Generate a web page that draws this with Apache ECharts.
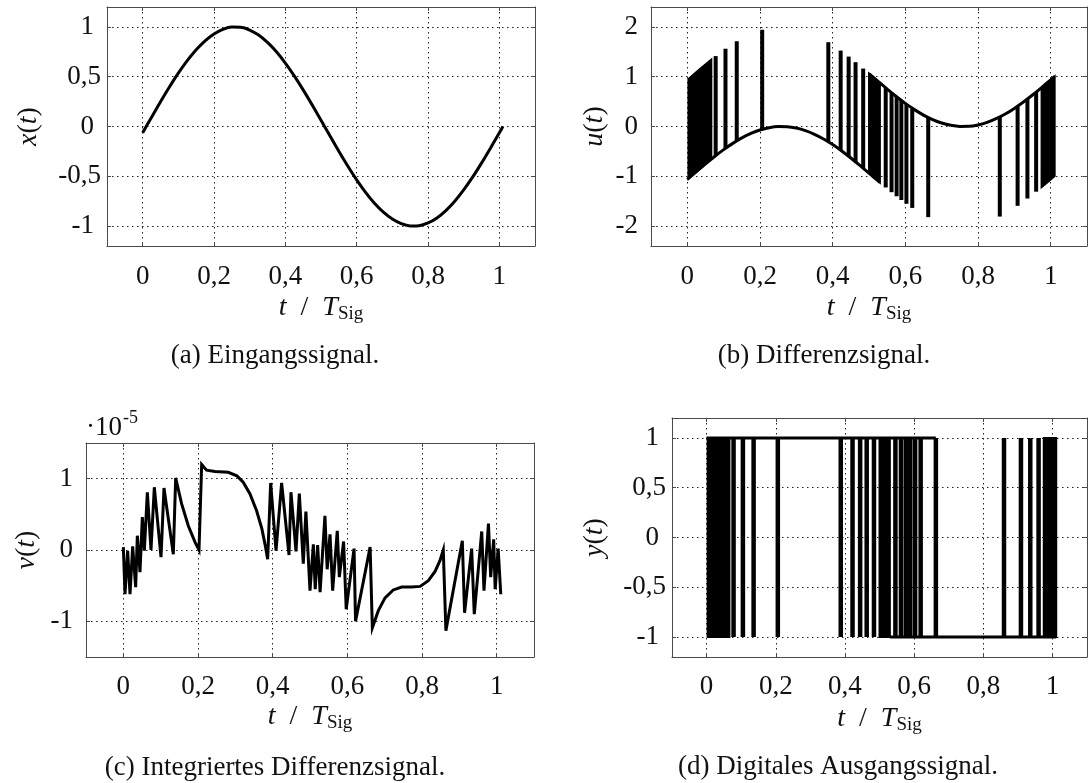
<!DOCTYPE html>
<html>
<head>
<meta charset="utf-8">
<script src="https://cdn.jsdelivr.net/npm/echarts@6.0.0/dist/echarts.min.js"></script>
<style>html,body{margin:0;padding:0;background:#fff}#c{width:1090px;height:783px}</style>
</head>
<body>
<div id="c"></div>
<script>
// ---------- data ----------
// (a) input signal x(t)
const tGrid = [0,0.025,0.05,0.075,0.1,0.125,0.15,0.175,0.2,0.225,0.25,0.275,0.3,0.325,0.35,0.375,0.4,0.425,0.45,0.475,0.5,0.525,0.55,0.575,0.6,0.625,0.65,0.675,0.7,0.725,0.75,0.775,0.8,0.825,0.85,0.875,0.9,0.925,0.95,0.975,1.0,1.01];
const xVals = [-0.063,0.094,0.249,0.397,0.536,0.661,0.771,0.861,0.930,0.976,0.998,0.996,0.969,0.918,0.844,0.750,0.637,0.509,0.368,0.218,0.063,-0.094,-0.249,-0.397,-0.536,-0.661,-0.771,-0.861,-0.930,-0.976,-0.998,-0.996,-0.969,-0.918,-0.844,-0.750,-0.637,-0.509,-0.368,-0.218,-0.063,0.000];

// (b) difference signal u(t): lower branch, upper branch, spikes, dense switching bands
const uLowT = [0,0.025,0.05,0.075,0.1,0.125,0.15,0.175,0.2,0.225,0.25,0.275,0.3,0.325,0.35,0.375,0.4,0.425,0.45,0.475,0.5,0.525,0.53];
const uLowV = [-1.063,-0.906,-0.751,-0.603,-0.464,-0.339,-0.229,-0.139,-0.070,-0.024,-0.002,-0.004,-0.031,-0.082,-0.156,-0.250,-0.363,-0.491,-0.632,-0.782,-0.937,-1.094,-1.125];
const uHighT = [0.5,0.525,0.55,0.575,0.6,0.625,0.65,0.675,0.7,0.725,0.75,0.775,0.8,0.825,0.85,0.875,0.9,0.925,0.95,0.975,1.0,1.011];
const uHighV = [1.063,0.906,0.751,0.603,0.464,0.339,0.229,0.139,0.070,0.024,0.002,0.004,0.031,0.082,0.156,0.250,0.363,0.491,0.632,0.782,0.937,1.006];
const pulseT  = [0.078,0.105,0.136,0.206,0.388,0.422,0.444,0.463,0.484,0.546,0.562,0.576,0.589,0.603,0.619,0.663,0.860,0.909,0.936,0.960];
const spikeLo = [-0.586,-0.438,-0.289,-0.057,-0.307,-0.475,-0.596,-0.708,-0.837,-1.224,-1.319,-1.401,-1.476,-1.552,-1.635,-1.820,-1.809,-1.593,-1.446,-1.309];
const spikeHi = [1.414,1.562,1.712,1.943,1.693,1.525,1.404,1.292,1.163,0.776,0.681,0.599,0.525,0.448,0.365,0.181,0.191,0.407,0.554,0.691];
const denseT0  = [0.003,0.500,0.975];
const denseTm  = [0.033,0.515,0.993];
const denseT1  = [0.066,0.530,1.011];
const denseBLo = [[-1.044,-0.856,-0.655],[-0.937,-1.031,-1.125],[-1.218,-1.107,-0.994]];
const denseBHi = [[0.956,1.144,1.345],[1.063,0.969,0.875],[0.782,0.894,1.006]];

// (c) integrated difference signal v(t), in units of 1e-5
const vT = [0,0.0045,0.0116,0.0179,0.025,0.033,0.0375,0.0446,0.0509,0.0563,0.0643,0.0741,0.083,0.1009,0.1089,0.1339,0.1402,0.156,0.174,0.192,0.2027,0.2098,0.223,0.2455,0.281,0.304,0.321,0.339,0.357,0.371,0.381,0.3866,0.3946,0.409,0.424,0.4438,0.449,0.4625,0.4714,0.482,0.489,0.5,0.509,0.514,0.5205,0.527,0.540,0.546,0.5536,0.5607,0.573,0.5786,0.590,0.597,0.618,0.622,0.661,0.667,0.683,0.701,0.723,0.7455,0.772,0.795,0.817,0.835,0.848,0.857,0.864,0.908,0.914,0.933,0.940,0.960,0.966,0.978,0.984,0.992,0.996,1.004,1.011];
const vVals = [0.04,-0.62,-0.01,-0.62,0.05,-0.52,0.20,-0.31,0.46,-0.01,0.81,0.0,0.88,-0.10,0.87,-0.06,1.01,0.65,0.34,0.11,0.0,1.20,1.12,1.10,1.09,1.04,0.95,0.79,0.55,0.30,0.04,-0.13,0.94,-0.01,0.94,-0.07,0.81,-0.02,0.79,-0.19,0.54,-0.57,0.08,-0.55,0.07,-0.59,0.48,-0.27,0.22,-0.57,0.27,-0.38,0.12,-0.83,0.02,-1.0,0.04,-1.09,-0.85,-0.67,-0.56,-0.52,-0.52,-0.51,-0.43,-0.30,-0.15,0.0,-1.13,0.13,-0.88,0.02,-0.90,0.26,-0.57,0.37,-0.38,0.15,-0.55,0.02,-0.62];

// (d) digital output y(t): levels, held rails, pulses (pulseT) and dense bands (denseT0/T1)
const yLevels = [-1, 1];
const railT0 = [0, 0.53];
const railT1 = [0.663, 1.011];
const railV  = [1, -1];

// tick labels
const xTickStep = 0.2;
const captions = ['(a) Eingangssignal.', '(b) Differenzsignal.', '(c) Integriertes Differenzsignal.', '(d) Digitales Ausgangssignal.'];

// ---------- styling helpers ----------
const FONT = '"Liberation Serif", "Times New Roman", serif';
const INK = '#111';
const BORDER = '#4a4a4a';
const GRID_LINE = {color: '#222', width: 1, type: [1.5, 3.5]};
const TICK_FS = 27;
const NAME_FS = 28;
const LW = 3;

function onStep(v, step) { const r = v / step; return Math.abs(r - Math.round(r)) < 1e-6; }
function commaNum(v) { return String(Math.round(v * 1000) / 1000).replace('.', ','); }

const nameRich = {
  it: {fontFamily: FONT, fontSize: NAME_FS, fontStyle: 'italic', color: INK, lineHeight: 32, verticalAlign: 'middle'},
  n:  {fontFamily: FONT, fontSize: NAME_FS, color: INK, lineHeight: 32, verticalAlign: 'middle'},
  sub:{fontFamily: FONT, fontSize: 19, color: INK, lineHeight: 19, verticalAlign: 'bottom'}
};

function xAxes(g, nameGap, margin) {
  return [{
    gridIndex: g, type: 'value', min: -0.1, max: 1.1, position: 'bottom',
    axisLine: {show: true, onZero: false, lineStyle: {color: BORDER, width: 1}},
    axisTick: {show: true, inside: true, length: 4, lineStyle: {color: BORDER, width: 1}},
    axisLabel: {show: true, margin: margin, fontFamily: FONT, fontSize: TICK_FS, color: INK,
      formatter: v => onStep(v, xTickStep) ? commaNum(v) : ''},
    splitLine: {show: true, showMinLine: false, showMaxLine: false, lineStyle: GRID_LINE},
    name: '{it|t}{n|\u2002/\u2002}{it|T}{sub|Sig}', nameLocation: 'middle', nameGap: nameGap, nameMoveOverlap: false,
    nameTextStyle: {fontFamily: FONT, fontSize: NAME_FS, color: INK, rich: nameRich}
  }, {
    gridIndex: g, type: 'value', min: -0.1, max: 1.1, position: 'top',
    axisLine: {show: true, onZero: false, lineStyle: {color: BORDER, width: 1}},
    axisTick: {show: true, inside: true, length: 4, lineStyle: {color: BORDER, width: 1}},
    axisLabel: {show: false}, splitLine: {show: false}
  }];
}

function yAxes(g, lim, splitNumber, step, name, nameGap) {
  return [{
    gridIndex: g, type: 'value', min: -lim, max: lim, splitNumber: splitNumber, position: 'left',
    axisLine: {show: true, onZero: false, lineStyle: {color: BORDER, width: 1}},
    axisTick: {show: true, inside: true, length: 4, lineStyle: {color: BORDER, width: 1}},
    axisLabel: {show: true, margin: 6, fontFamily: FONT, fontSize: TICK_FS, color: INK,
      formatter: v => {
        if (!onStep(v, step)) return '';
        const s = commaNum(v);
        return onStep(v, 1) ? '{int|' + s + '}' : s;
      },
      rich: {int: {fontFamily: FONT, fontSize: TICK_FS, color: INK, padding: [0, 7, 0, 0]}}},
    splitLine: {show: true, showMinLine: false, showMaxLine: false, lineStyle: GRID_LINE},
    name: name, nameLocation: 'middle', nameGap: nameGap, nameRotate: 90, nameMoveOverlap: false,
    nameTextStyle: {fontFamily: FONT, fontSize: NAME_FS, color: INK, rich: nameRich}
  }, {
    gridIndex: g, type: 'value', min: -lim, max: lim, splitNumber: splitNumber, position: 'right',
    axisLine: {show: true, onZero: false, lineStyle: {color: BORDER, width: 1}},
    axisTick: {show: true, inside: true, length: 4, lineStyle: {color: BORDER, width: 1}},
    axisLabel: {show: false}, splitLine: {show: false}
  }];
}

const lineBase = {type: 'line', showSymbol: false, symbol: 'none', silent: true, clip: true};

function barSeries(g, data, width) {
  return {
    type: 'custom', xAxisIndex: 2 * g, yAxisIndex: 2 * g, silent: true, clip: true,
    data: data, encode: {x: 0, y: [1, 2]},
    renderItem: (params, api) => {
      const p0 = api.coord([api.value(0), api.value(1)]);
      const p1 = api.coord([api.value(0), api.value(2)]);
      return {type: 'line', shape: {x1: p0[0], y1: p0[1], x2: p1[0], y2: p1[1]},
              style: {stroke: '#000', lineWidth: width, lineCap: 'butt'}};
    }
  };
}

function bandSeries(g, lo, hi) {
  return {
    type: 'custom', xAxisIndex: 2 * g, yAxisIndex: 2 * g, silent: true, clip: true,
    data: denseT0.map((t, i) => [t, denseT1[i], i]), encode: {x: [0, 1]},
    renderItem: (params, api) => {
      const i = api.value(2);
      const ts = [denseT0[i], denseTm[i], denseT1[i]];
      const top = ts.map((t, k) => api.coord([t, hi(i, k)]));
      const bot = ts.map((t, k) => api.coord([t, lo(i, k)])).reverse();
      return {type: 'polygon', shape: {points: top.concat(bot)},
              style: {fill: '#000', stroke: '#000', lineWidth: 2}};
    }
  };
}

function textEl(text, x, y, size, align) {
  return {type: 'text', x: x, y: y, silent: true,
    style: {text: text, fontFamily: FONT, fontSize: size, fill: INK,
      textAlign: align || 'center', textVerticalAlign: 'middle', align: align || 'center', verticalAlign: 'middle'}};
}

const option = {
  animation: false,
  backgroundColor: '#fff',
  grid: [
    {left: 107, top: 7, width: 428, height: 239},
    {left: 651, top: 7, width: 448, height: 239},
    {left: 86, top: 443, width: 448, height: 214},
    {left: 672, top: 418, width: 427, height: 239}
  ].map(g => Object.assign({show: false, containLabel: false}, g)),
  xAxis: [].concat(xAxes(0, 46, 17), xAxes(1, 46, 17), xAxes(2, 44, 16), xAxes(3, 46, 16)),
  yAxis: [].concat(
    yAxes(0, 1.2, 5, 0.5, '{it|x}{n|(}{it|t}{n|)}', 62),
    yAxes(1, 2.4, 5, 1, '{it|u}{n|(}{it|t}{n|)}', 40),
    yAxes(2, 1.5, 3, 1, '{it|v}{n|(}{it|t}{n|)}', 43),
    yAxes(3, 1.2, 5, 0.5, '{it|y}{n|(}{it|t}{n|)}', 61)
  ),
  series: [
    // (a)
    Object.assign({}, lineBase, {xAxisIndex: 0, yAxisIndex: 0, smooth: 0.25,
      data: tGrid.map((t, i) => [t, xVals[i]]), lineStyle: {color: '#000', width: LW}}),
    // (b)
    bandSeries(1, (i, k) => denseBLo[i][k], (i, k) => denseBHi[i][k]),
    barSeries(1, pulseT.map((t, i) => [t, spikeLo[i], spikeHi[i]]), 4),
    Object.assign({}, lineBase, {xAxisIndex: 2, yAxisIndex: 2, smooth: 0.25,
      data: uLowT.map((t, i) => [t, uLowV[i]]), lineStyle: {color: '#000', width: LW}}),
    Object.assign({}, lineBase, {xAxisIndex: 2, yAxisIndex: 2, smooth: 0.25,
      data: uHighT.map((t, i) => [t, uHighV[i]]), lineStyle: {color: '#000', width: LW}}),
    // (c)
    Object.assign({}, lineBase, {xAxisIndex: 4, yAxisIndex: 4,
      data: vT.map((t, i) => [t, vVals[i]]), lineStyle: {color: '#000', width: LW, join: 'miter', miterLimit: 6}}),
    // (d)
    bandSeries(3, () => yLevels[0], () => yLevels[1]),
    barSeries(3, pulseT.map(t => [t, yLevels[0], yLevels[1]]), 4.5),
    Object.assign({}, lineBase, {xAxisIndex: 6, yAxisIndex: 6,
      data: [[railT0[0], railV[0]], [railT1[0], railV[0]]], lineStyle: {color: '#000', width: LW}}),
    Object.assign({}, lineBase, {xAxisIndex: 6, yAxisIndex: 6,
      data: [[railT0[1], railV[1]], [railT1[1], railV[1]]], lineStyle: {color: '#000', width: LW}})
  ],
  graphic: [
    textEl(captions[0], 275, 356, 27),
    textEl(captions[1], 824, 356, 27),
    textEl(captions[2], 275, 768, 27),
    textEl(captions[3], 838, 767, 27),
    textEl('\u00B710', 86, 428, TICK_FS, 'left'),
    textEl('-5', 123, 418, 18, 'left')
  ]
};

const chart = echarts.init(document.getElementById('c'), null, {renderer: 'canvas'});
chart.setOption(option);
</script>
</body>
</html>
